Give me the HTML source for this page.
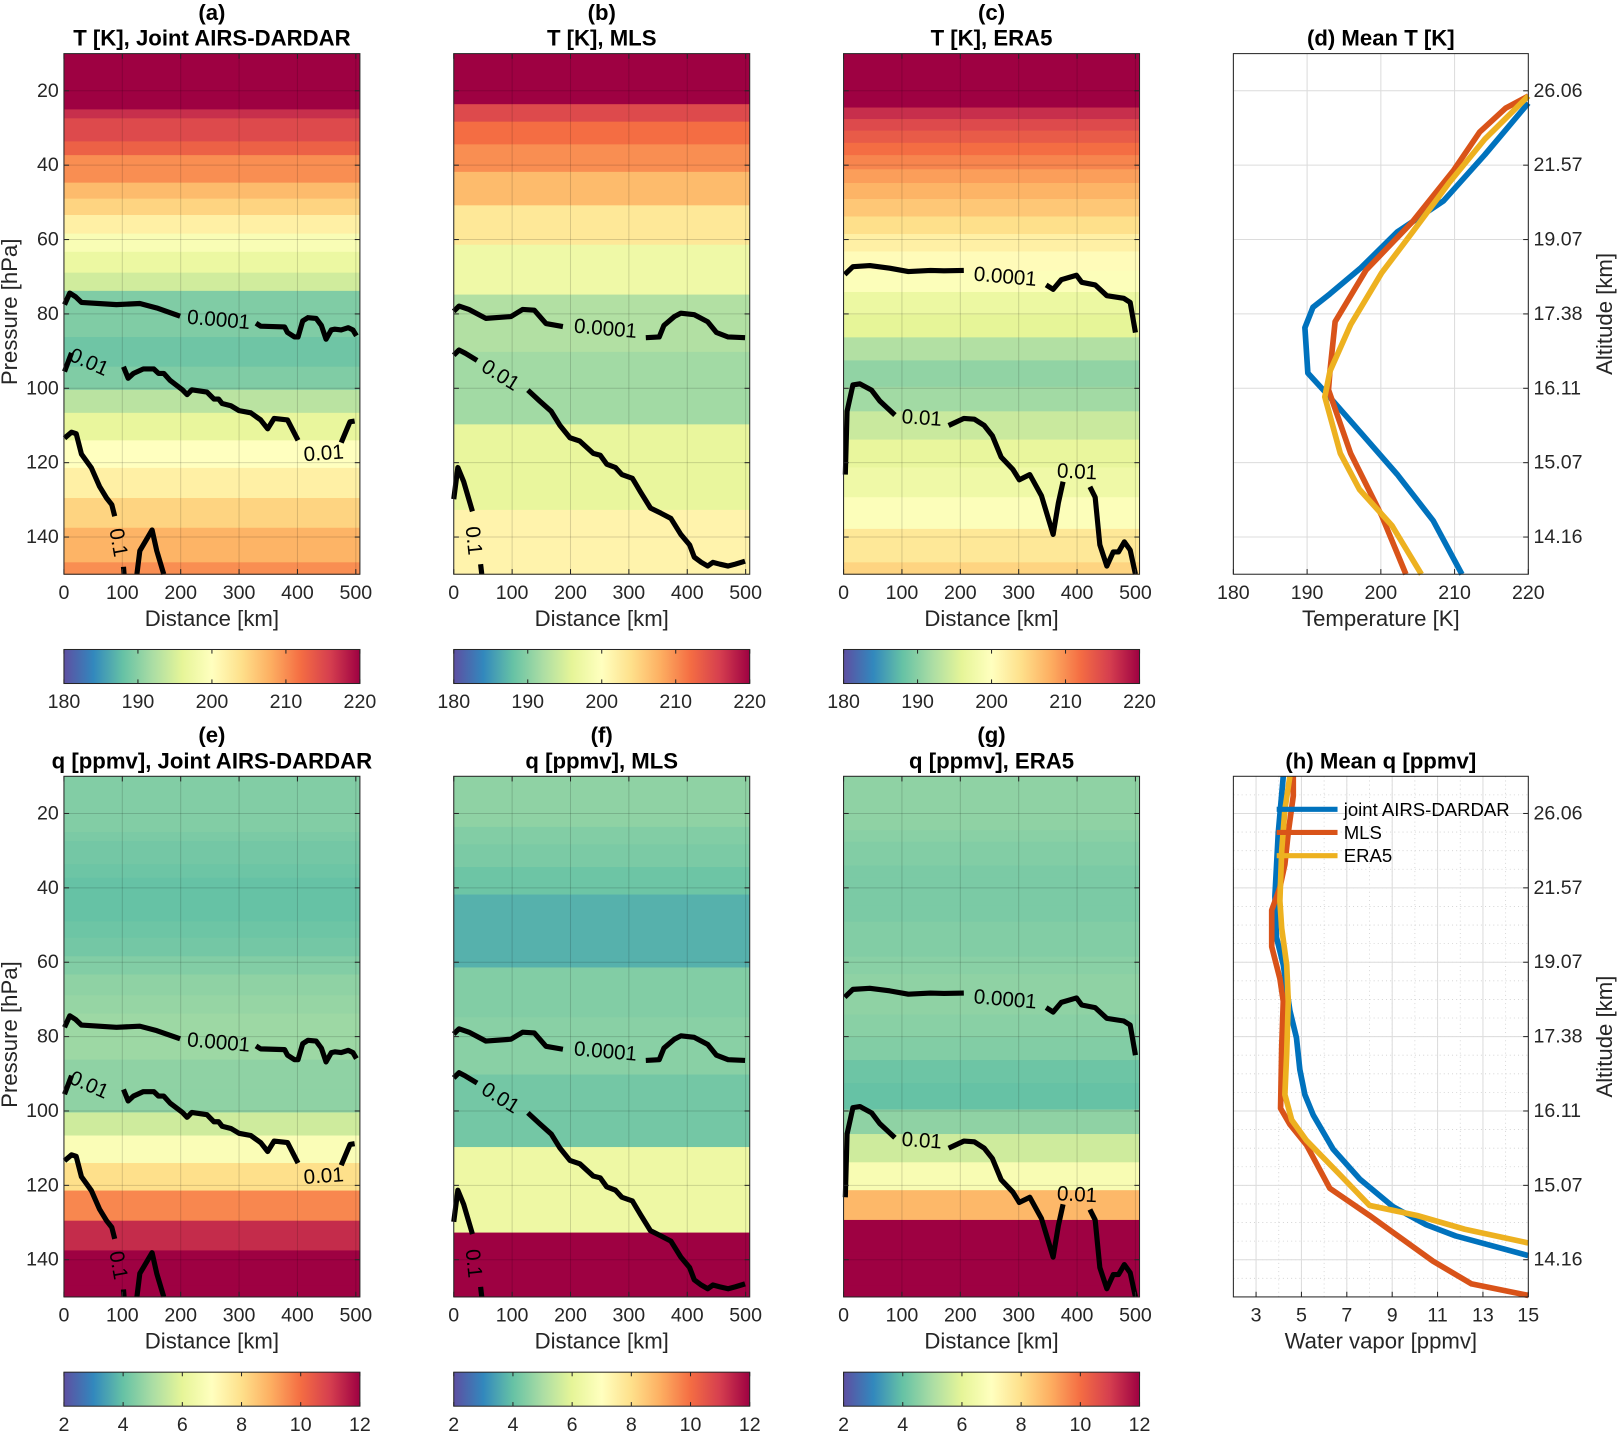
<!DOCTYPE html>
<html><head><meta charset="utf-8"><style>
html,body{margin:0;padding:0;background:#fff;}
svg{display:block;font-family:"Liberation Sans",sans-serif;}
</style></head><body>
<svg id="fig" width="1617" height="1433" viewBox="0 0 1568 1390" preserveAspectRatio="none" xmlns="http://www.w3.org/2000/svg"></svg>
<script>
// ===== data =====
const levA=[10,25,27.4,33.6,37.3,44.7,49,53.4,58.4,63.3,68.9,73.8,86.2,94.2,100.4,106.6,114,121.4,129.5,137.5,146.8,150];
const tA=[222,217,215,213,210,207,205,202,199,197,194.5,189.5,188.5,189.5,193,196.5,200,202,205,207.5,210];
const qA=[4.4,4.3,4.2,4.1,4.0,4.0,4.1,4.2,4.4,4.6,4.7,4.8,4.6,4.6,5.6,6.8,8.0,9.6,11.3,13,13];
const levB=[10,23.6,28.3,34.4,41.8,50.8,61.4,74.8,90.2,109.7,132.7,150];
const tB=[222,215,212,210,207,203,197.5,192.5,191.5,196.5,201.5];
const qB=[4.6,4.4,4.3,4.1,3.7,3.7,4.4,4.5,4.2,6.3,13];
const levC=[10,24.5,27.6,30.7,34,37.3,41.1,44.8,49.1,53.8,58.5,63.2,68.4,74.1,80.2,86.3,92.5,99.6,106.2,113.8,121.3,129.3,137.8,146.8,150];
const tC=[222,217,215,213.5,212,210.5,209,207.5,206,204,202,200.5,199.5,197,196,192.5,190.5,191.5,194,196.5,197.5,199.5,203,205];
const qC=[4.6,4.5,4.4,4.4,4.3,4.3,4.3,4.3,4.4,4.4,4.5,4.6,4.6,4.5,4.4,4.1,4.0,4.6,5.6,6.7,8.8,13,13,13];

const contA=[
 [[1,77.5],[10,74.4],[20,75.4],[30,76.9],[90,77.5],[130,77.2],[159,78.4],[188,80],[199,80.6]],
 [[329,82.5],[337,83.3],[378,83.5],[383,85],[395,86.2],[401,86.2],[409,81.9],[418,81],[432,81.2],[441,83.1],[449,86.8],[458,84.3],[464,84.1],[475,84.3],[487,83.7],[495,84.3],[501,85.9]],
 [[1,95.5],[13,90.5]],
 [[102,94.2],[110,97.3],[119,96],[136,94.8],[154,94.8],[162,96],[171,96],[182,97.9],[203,100.4],[211,101.7],[219,100.4],[245,101],[257,102.9],[265,102.9],[271,104.1],[286,104.7],[300,106],[320,106.6],[337,108.5],[349,110.9],[360,108.1],[383,108.5],[401,114]],
 [[475,114.6],[490,109],[498,108.8]],
 [[1,113.4],[13,111.8],[21,112.2],[30,117.7],[47,121.4],[61,126.4],[73,129.5],[82,131.3],[87,134.4]],
 [[102,148],[103,150]],
 [[125,150],[130,143.7],[151,138.1],[159,143.7],[171,150]]
];
const labA=[["0.0001",265,81.6,5],["0.01",43,93,24],["0.01",445,117.5,-4],["0.1",93,141.5,80]];
const contB=[
 [[0,79.3],[9,77.9],[26,78.8],[55,81.2],[98,80.7],[118,78.8],[138,79],[158,82.6],[187,83.4]],
 [[329,86.4],[352,86.2],[360,83.1],[378,80.7],[389,79.8],[412,80.2],[435,82.1],[450,85],[470,86.2],[499,86.4]],
 [[0,91.1],[9,89.7],[20,90.6],[40,92.5]],
 [[127,100.5],[147,103.4],[167,106.2],[182,110],[199,113.3],[216,114.2],[239,117.5],[251,118],[262,120.4],[277,121.3],[288,123.2],[306,124.2],[320,127.9],[337,132.2],[355,133.6],[372,135],[389,139.3],[404,142.1],[412,145.4],[424,146.8],[435,147.8],[444,146.8],[456,147.3],[470,147.8],[482,147.3],[499,146.5]],
 [[0,129.8],[7,121.3],[17,125.1],[32,133.1]],
 [[46,147.3],[48,150]]
];
const labB=[["0.0001",260,84,5],["0.01",80,96.5,32],["0.1",34,141,84]];
const contC=[
 [[2,69.4],[16,67.3],[45,67],[79,67.7],[111,68.6],[149,68.3],[172,68.4],[206,68.3]],
 [[347,72.2],[359,73.4],[373,70.8],[388,70.1],[399,69.6],[408,71.5],[431,72.2],[451,75.1],[480,75.8],[491,76.9],[500,85]],
 [[3,123.2],[6,106.2],[16,99.1],[28,98.8],[48,100.5],[62,103.4],[88,107.2]],
 [[180,110],[206,108.1],[224,108.3],[241,110],[255,112.8],[270,118.5],[290,121.8],[301,124.6],[319,123.2],[339,128.9],[359,139.3],[368,130.8],[376,125.1]],
 [[422,126.5],[431,129.3],[439,142.1],[451,147.8],[462,144],[471,144],[481,141.3],[491,143.5],[500,150]]
];
const labC=[["0.0001",277,70,5],["0.01",134,108,4],["0.01",400,122.5,3]];

const meanTp=[[23.3,37.2,49.6,58,67.6,74.6,78.2,83.7,95.9,100.9,112,123.1,135.6,150],[21.4,24.7,31.1,41.3,55.2,68.2,82.1,95.4,100.4,117.5,134.2,150],[21.4,33,44.9,58,69,82.9,95.4,102.3,117.5,127.2,136.9,150]];
const meanT=[[220,214.1,208.5,202.2,197.3,193.1,190.8,189.7,190.1,192.4,197.3,202.2,207.1,211],[220,216.9,213.4,209.9,204.3,198,193.8,193.1,192.9,195.9,200.1,203.4],[220,214.1,209.2,204.3,200.1,195.9,193.1,192.4,194.5,197.1,201.5,205.5]];
const meanQp=[[10,25.1,42.3,53.3,60.7,73,80.3,88.9,95.6,101.1,110.3,118.3,125.7,130.6,133.6,138.9],[10,15.3,25.1,33.7,39.9,46,55.8,64.4,70.5,82.8,99.3,103.6,109.1,120.8,128.1,140.4,146.5,149.6],[10,19,30,43.5,50.9,60.7,70.5,84.6,95.6,102.4,107.9,117.1,125.4,128.1,131.8,135.5]];
const meanQ=[[4.2,3.98,3.83,3.9,4.2,4.49,4.78,4.93,5.15,5.52,6.4,7.57,9.03,10.5,11.8,15],[4.64,4.64,4.42,4.27,4.05,3.69,3.69,4.05,4.2,4.13,4.08,4.49,5.22,6.25,8,10.8,12.5,15],[4.49,4.27,4.13,4.05,4.13,4.35,4.42,4.35,4.27,4.57,5.22,6.69,8,10.1,12.2,15]];
const seriesNames=["joint AIRS-DARDAR","MLS","ERA5"];
const seriesColors=["#0072bd","#d95319","#edb120"];
const pTicks=[20,40,60,80,100,120,140];
const altLabels=["26.06","21.57","19.07","17.38","16.11","15.07","14.16"];
const distTicks=[0,100,200,300,400,500];
const tTicks=[180,190,200,210,220];
const qTicks=[2,4,6,8,10,12];
const wvTicks=[3,5,7,9,11,13,15];

// ===== helpers =====
const NS="http://www.w3.org/2000/svg";
const svg=document.getElementById('fig');
const FT=19, FL=21.5, FH=21.5, FC=20;
function mk(tag,attrs,parent){const e=document.createElementNS(NS,tag);for(const k in attrs)e.setAttribute(k,attrs[k]);(parent||svg).appendChild(e);return e;}
function txt(s,x,y,size,anchor,weight,parent){const e=mk('text',{x:x,y:y,'font-size':size,'text-anchor':anchor||'middle','dominant-baseline':'central','font-weight':weight||'normal',fill:'#262626'},parent);e.textContent=s;return e;}
const stops=["#5e4fa2","#3288bd","#66c2a5","#abdda4","#e6f598","#ffffbf","#fee08b","#fdae61","#f46d43","#d53e4f","#9e0142"];
function hx(c){return [parseInt(c.slice(1,3),16),parseInt(c.slice(3,5),16),parseInt(c.slice(5,7),16)];}
function cmap(v,lo,hi){let t=(v-lo)/(hi-lo);t=Math.max(0,Math.min(1,t))*10;const i=Math.min(9,Math.floor(t));const f=t-i;const a=hx(stops[i]),b=hx(stops[i+1]);return 'rgb('+a.map((x,k)=>Math.round(x+(b[k]-x)*f)).join(',')+')';}
function lin(d0,d1,r0,r1){return v=>r0+(v-d0)/(d1-d0)*(r1-r0);}

const cols=[62,440,818];
const rows=[{y0:52,y1:557},{y0:753,y1:1258}];
const W=287;

function heatPanel(px,row,lev,vals,lo,hi,conts,labs,name,letter,title,showY){
  const y0=row.y0,y1=row.y1;
  const g=mk('g',{});
  
  
  const xs=lin(0,507,px,px+W), ys=lin(10,150,y0,y1);
  for(let i=0;i<vals.length;i++){
    const r=mk('rect',{x:px,y:ys(lev[i]),width:W,height:ys(lev[i+1])-ys(lev[i])+0.5,fill:cmap(vals[i],lo,hi)},g);
    
    
  }
  distTicks.forEach(d=>{if(d>0)mk('line',{x1:xs(d),x2:xs(d),y1:y0,y2:y1,stroke:'rgba(0,0,0,0.15)','stroke-width':1},g);});
  pTicks.forEach(p=>mk('line',{x1:px,x2:px+W,y1:ys(p),y2:ys(p),stroke:'rgba(0,0,0,0.15)','stroke-width':1},g));
  conts.forEach(seg=>{
    const pl=mk('polyline',{points:seg.map(q=>xs(q[0])+','+ys(q[1])).join(' '),fill:'none',stroke:'#000','stroke-width':5,'stroke-linejoin':'round'},g);
    
    
  });
  labs.forEach(l=>{
    const t=txt(l[0],xs(l[1]),ys(l[2]),FC,'middle','normal',g);
    t.setAttribute('fill','#000');
    t.setAttribute('transform','rotate('+l[3]+' '+xs(l[1])+' '+ys(l[2])+')');
    
    
  });
  mk('rect',{x:px,y:y0,width:W,height:y1-y0,fill:'none',stroke:'#262626','stroke-width':1},g);
  pTicks.forEach(p=>{mk('line',{x1:px,x2:px+5,y1:ys(p),y2:ys(p),stroke:'#262626'},g);mk('line',{x1:px+W,x2:px+W-5,y1:ys(p),y2:ys(p),stroke:'#262626'},g);
    if(showY){const t=txt(String(p),px-5,ys(p),FT,'end','normal',g);}});
  distTicks.forEach(d=>{mk('line',{x1:xs(d),x2:xs(d),y1:y1,y2:y1-5,stroke:'#262626'},g);mk('line',{x1:xs(d),x2:xs(d),y1:y0,y2:y0+5,stroke:'#262626'},g);
    const t=txt(String(d),xs(d),y1+18,FT,'middle','normal',g);});
  const xl=txt('Distance [km]',px+W/2,y1+43,FL,'middle','normal',g);
  
  if(showY){const yl=txt('Pressure [hPa]',0,0,FL,'middle','normal',g);yl.setAttribute('transform','translate(9,'+((y0+y1)/2-2)+') rotate(-90)');
    }
  const a=txt(letter,px+W/2,y0-40,FH,'middle','bold',g);a.setAttribute('fill','#000');
  
  const tt=txt(title,px+W/2,y0-15,FH,'middle','bold',g);tt.setAttribute('fill','#000');
  
}
function colorbar(px,y,lo,hi,ticks,id){
  const g=mk('g',{});
  
  
  const defs=mk('defs',{},g);
  const lg=mk('linearGradient',{id:id,x1:0,x2:1,y1:0,y2:0},defs);
  stops.forEach((c,i)=>mk('stop',{offset:(i/10),'stop-color':c},lg));
  mk('rect',{x:px,y:y,width:W,height:33,fill:'url(#'+id+')',stroke:'#262626','stroke-width':1},g);
  const xs=lin(lo,hi,px,px+W);
  ticks.forEach(t=>{mk('line',{x1:xs(t),x2:xs(t),y1:y+33,y2:y+29,stroke:'#262626'},g);mk('line',{x1:xs(t),x2:xs(t),y1:y,y2:y+4,stroke:'#262626'},g);
    const e=txt(String(t),xs(t),y+51,FT,'middle','normal',g);});
}
heatPanel(cols[0],rows[0],levA,tA,180,220,contA,labA,'panel-a-heatmap','(a)','T [K], Joint AIRS-DARDAR',true);
heatPanel(cols[1],rows[0],levB,tB,180,220,contB,labB,'panel-b-heatmap','(b)','T [K], MLS',false);
heatPanel(cols[2],rows[0],levC,tC,180,220,contC,labC,'panel-c-heatmap','(c)','T [K], ERA5',false);
heatPanel(cols[0],rows[1],levA,qA,2,12,contA,labA,'panel-e-heatmap','(e)','q [ppmv], Joint AIRS-DARDAR',true);
heatPanel(cols[1],rows[1],levB,qB,2,12,contB,labB,'panel-f-heatmap','(f)','q [ppmv], MLS',false);
heatPanel(cols[2],rows[1],levC,qC,2,12,contC,labC,'panel-g-heatmap','(g)','q [ppmv], ERA5',false);
cols.forEach((c,i)=>{colorbar(c,630,180,220,tTicks,'cbT'+i);colorbar(c,1331,2,12,qTicks,'cbQ'+i);});

function profilePanel(row,lo,hi,ticks,X,P,name,title,xlabel,minor,legend){
  const px=1196,pw=286,y0=row.y0,y1=row.y1;
  const g=mk('g',{});
  
  
  const xs=lin(lo,hi,px,px+pw), ys=lin(10,150,y0,y1);
  mk('rect',{x:px,y:y0,width:pw,height:y1-y0,fill:'#fff'},g);
  if(minor){
    for(let v=Math.ceil(lo);v<=hi;v++){mk('line',{x1:xs(v),x2:xs(v),y1:y0,y2:y1,stroke:'#d0d0d0','stroke-width':0.8,'stroke-dasharray':'1,3'},g);}
    for(let p=15;p<150;p+=5){mk('line',{x1:px,x2:px+pw,y1:ys(p),y2:ys(p),stroke:'#d0d0d0','stroke-width':0.8,'stroke-dasharray':'1,3'},g);}
  }
  ticks.forEach(t=>mk('line',{x1:xs(t),x2:xs(t),y1:y0,y2:y1,stroke:'#dcdcdc','stroke-width':1},g));
  pTicks.forEach(p=>mk('line',{x1:px,x2:px+pw,y1:ys(p),y2:ys(p),stroke:'#dcdcdc','stroke-width':1},g));
  X.forEach((xv,s)=>{
    const pl=mk('polyline',{points:xv.map((v,i)=>xs(v)+','+ys(P[s][i])).join(' '),fill:'none',stroke:seriesColors[s],'stroke-width':5.5,'stroke-linejoin':'round'},g);
    
    
  });
  mk('rect',{x:px,y:y0,width:pw,height:y1-y0,fill:'none',stroke:'#262626','stroke-width':1},g);
  ticks.forEach(t=>{mk('line',{x1:xs(t),x2:xs(t),y1:y1,y2:y1-5,stroke:'#262626'},g);
    const e=txt(String(t),xs(t),y1+18,FT,'middle','normal',g);});
  pTicks.forEach((p,i)=>{mk('line',{x1:px+pw,x2:px+pw-5,y1:ys(p),y2:ys(p),stroke:'#262626'},g);
    const e=txt(altLabels[i],px+pw+5,ys(p),FT,'start','normal',g);});
  const xl=txt(xlabel,px+pw/2,y1+43,FL,'middle','normal',g);
  const yl=txt('Altitude [km]',0,0,FL,'middle','normal',g);yl.setAttribute('transform','translate(1556,'+((y0+y1)/2)+') rotate(-90)');
  
  const tt=txt(title,px+pw/2,y0-15,FH,'middle','bold',g);tt.setAttribute('fill','#000');
  if(legend){
    seriesNames.forEach((n,s)=>{
      const yy=785+s*22.5;
      const lg=mk('g',{},g);
      
      
      mk('line',{x1:1238,x2:1297,y1:yy,y2:yy,stroke:seriesColors[s],'stroke-width':5},lg);
      const e=txt(n,1303,yy,18,'start','normal',lg);e.setAttribute('fill','#000');
    });
  }
}
profilePanel(rows[0],180,220,tTicks,meanT,meanTp,'panel-d-mean-t','(d) Mean T [K]','Temperature [K]',false,false);
profilePanel(rows[1],2,15,wvTicks,meanQ,meanQp,'panel-h-mean-q','(h) Mean q [ppmv]','Water vapor [ppmv]',true,true);
</script>
</body></html>
